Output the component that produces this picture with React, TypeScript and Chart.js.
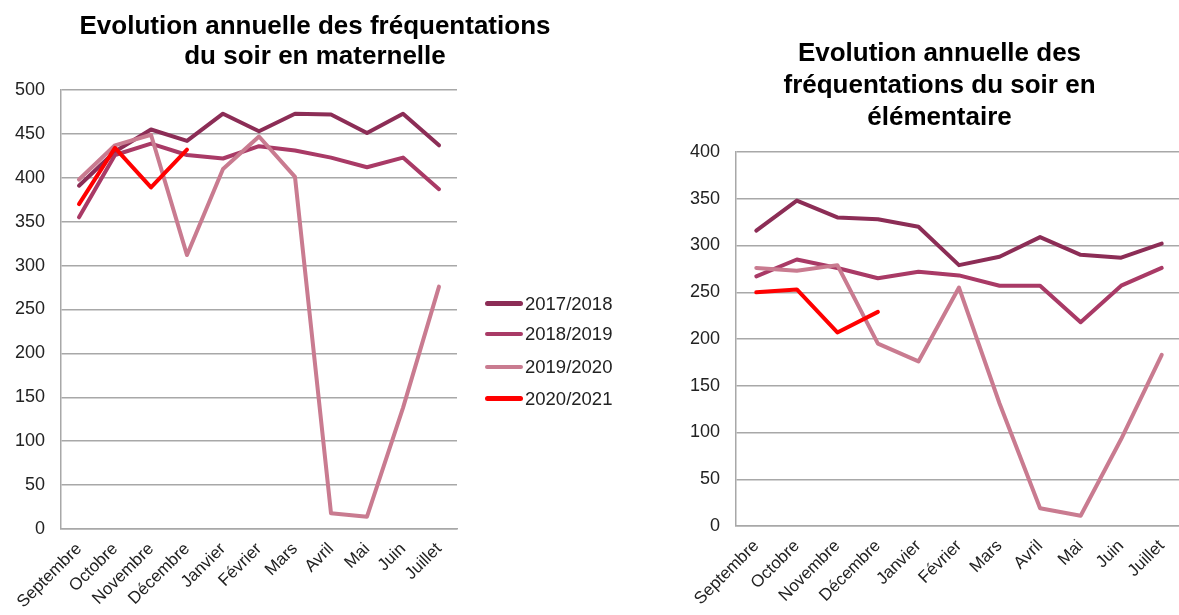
import React, { useEffect, useRef } from 'react';
import { Chart, registerables } from 'chart.js';

Chart.register(...registerables);

// ---------- data ----------
const MONTHS = ['Septembre', 'Octobre', 'Novembre', 'Décembre', 'Janvier', 'Février', 'Mars', 'Avril', 'Mai', 'Juin', 'Juillet'];
const SERIES_LABELS = ['2017/2018', '2018/2019', '2019/2020', '2020/2021'];

// Maternelle
const MAT_2017_2018 = [391, 430, 455, 442, 473, 453, 473, 472, 451, 473, 437];
const MAT_2018_2019 = [355, 426, 439, 426, 422, 436, 431, 423, 412, 423, 387];
const MAT_2019_2020 = [398, 437, 449, 312, 410, 447, 401, 18, 14, 138, 276];
const MAT_2020_2021 = [370, 434, 389, 432];

// Elémentaire
const ELEM_2017_2018 = [316, 348, 330, 328, 320, 279, 288, 309, 290, 287, 302];
const ELEM_2018_2019 = [267, 285, 276, 265, 272, 268, 257, 257, 218, 257, 276];
const ELEM_2019_2020 = [276, 273, 279, 195, 176, 255, 131, 19, 11, 93, 183];
const ELEM_2020_2021 = [250, 253, 207, 229];

const MAT_TITLE = ['Evolution annuelle des fréquentations', 'du soir en maternelle'];
const ELEM_TITLE = ['Evolution annuelle des', 'fréquentations du soir en', 'élémentaire'];

const MAT_Y_MAX = 500;
const ELEM_Y_MAX = 400;
const Y_STEP = 50;

// ---------- styles ----------
const COLORS = ['#8c2d56', '#a93a66', '#c97b90', '#ff0000'];
const FONT = "'Liberation Sans', Arial, Helvetica, sans-serif";
const GRID = '#a8a8a8';
const TEXT = '#222222';

function makeDatasets(series: number[][]) {
  return series.map((data, i) => ({
    label: SERIES_LABELS[i],
    data,
    borderColor: COLORS[i],
    backgroundColor: COLORS[i],
    borderWidth: 4,
    pointRadius: 0,
    pointHoverRadius: 0,
    tension: 0,
    fill: false,
    borderJoinStyle: 'round' as const,
    borderCapStyle: 'round' as const,
    order: series.length - 1 - i,
  }));
}

function makeConfig(p: {
  series: number[][];
  title: string[];
  titleSize: number;
  titleLine: number;
  titlePad: { top: number; bottom: number };
  yMax: number;
  yWidth: number;
  xHeight: number;
  rightSpace: number;
}) {
  const scales: any = {
    x: {
      offset: true,
      grid: { display: false, drawTicks: false },
      border: { display: true, color: GRID, width: 1.5 },
      ticks: {
        font: { family: FONT, size: 17 },
        color: TEXT,
        minRotation: 45,
        maxRotation: 45,
        autoSkip: false,
        padding: 10,
      },
      afterFit: (s: any) => {
        s.height = p.xHeight;
      },
    },
    y: {
      min: 0,
      max: p.yMax,
      ticks: {
        stepSize: Y_STEP,
        padding: 16,
        font: { family: FONT, size: 18 },
        color: TEXT,
      },
      grid: { color: GRID, lineWidth: 1.5, drawTicks: false },
      border: { display: true, color: GRID, width: 1.5 },
      afterFit: (s: any) => {
        s.width = p.yWidth;
      },
    },
    yR: {
      position: 'right',
      display: true,
      ticks: { display: false },
      grid: { display: false, drawTicks: false },
      border: { display: false },
      afterFit: (s: any) => {
        s.width = p.rightSpace;
      },
    },
  };
  return {
    type: 'line' as const,
    data: { labels: MONTHS, datasets: makeDatasets(p.series) },
    options: {
      responsive: false,
      animation: false as const,
      devicePixelRatio: 1,
      layout: { padding: 0 },
      plugins: {
        legend: { display: false },
        tooltip: { enabled: false },
        title: {
          display: true,
          text: p.title,
          color: '#000000',
          font: { family: FONT, size: p.titleSize, weight: 'bold' as const, lineHeight: p.titleLine + 'px' },
          padding: p.titlePad,
        },
      },
      scales,
    },
  };
}

function LineChart({ config, width, height, style }: { config: any; width: number; height: number; style: React.CSSProperties }) {
  const ref = useRef<HTMLCanvasElement | null>(null);
  useEffect(() => {
    if (!ref.current) return;
    const chart = new Chart(ref.current, config);
    return () => chart.destroy();
  }, [config]);
  return <canvas ref={ref} width={width} height={height} style={{ position: 'absolute', width, height, ...style }} />;
}

const matConfig = makeConfig({
  series: [MAT_2017_2018, MAT_2018_2019, MAT_2019_2020, MAT_2020_2021],
  title: MAT_TITLE,
  titleSize: 26,
  titleLine: 30,
  titlePad: { top: 12, bottom: 18 },
  yMax: MAT_Y_MAX,
  yWidth: 61,
  xHeight: 86,
  rightSpace: 173,
});

// canvas spans 660..1219 (clipped at 1179) so that the title is centred on x≈939
const elemConfig = makeConfig({
  series: [ELEM_2017_2018, ELEM_2018_2019, ELEM_2019_2020, ELEM_2020_2021],
  title: ELEM_TITLE,
  titleSize: 26,
  titleLine: 32,
  titlePad: { top: 38, bottom: 18 },
  yMax: ELEM_Y_MAX,
  yWidth: 76,
  xHeight: 89,
  rightSpace: 37,
});

function Legend() {
  const rowTops = [287.5, 318.2, 350.9, 382.5];
  return (
    <div style={{ position: 'absolute', left: 485, top: 0 }}>
      {SERIES_LABELS.map((label, i) => (
        <div
          key={label}
          style={{
            position: 'absolute',
            top: rowTops[i],
            left: 0,
            height: 32,
            display: 'flex',
            alignItems: 'center',
            whiteSpace: 'nowrap',
          }}
        >
          <div style={{ width: 38, height: 4.5, borderRadius: 3, background: COLORS[i] }} />
          <span style={{ marginLeft: 2, fontFamily: FONT, fontSize: 18.5, color: TEXT }}>{label}</span>
        </div>
      ))}
    </div>
  );
}

export default function App() {
  return (
    <div style={{ position: 'absolute', left: 0, top: 0, width: 1179, height: 615, overflow: 'hidden', background: '#ffffff' }}>
      <LineChart config={matConfig} width={630} height={615} style={{ left: 0, top: 0 }} />
      <Legend />
      <LineChart config={elemConfig} width={559} height={615} style={{ left: 660, top: 0 }} />
    </div>
  );
}
